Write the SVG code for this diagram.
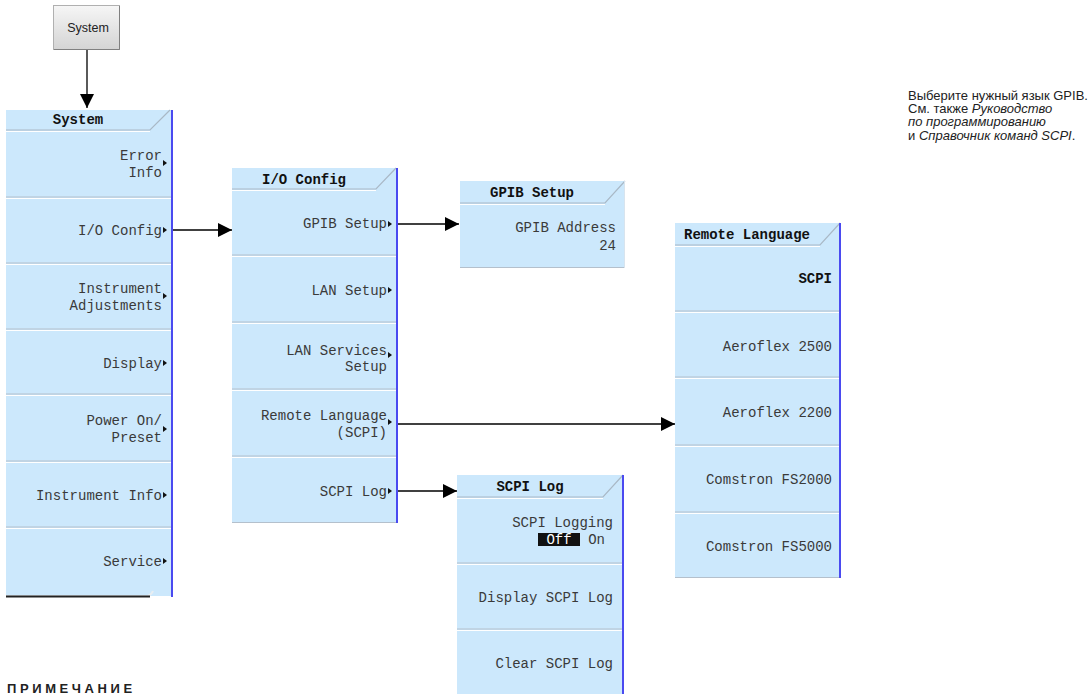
<svg xmlns="http://www.w3.org/2000/svg" width="1090" height="694" viewBox="0 0 1090 694">
<defs>
<linearGradient id="btn" x1="0" y1="0" x2="0" y2="1">
<stop offset="0" stop-color="#f6f6f6"/><stop offset="1" stop-color="#d4d4d4"/>
</linearGradient>
<marker id="ah" viewBox="0 0 14 14" refX="14" refY="7" markerWidth="14" markerHeight="14" markerUnits="userSpaceOnUse" orient="auto">
<path d="M0,0 L14,7 L0,14 Z" fill="#000"/>
</marker>
</defs>
<style>
.panel{fill:#cce8fc}
.blue{stroke:#4a4af0;stroke-width:2}
.sep{stroke:#b4c0cc;stroke-width:1.2}
.sepw{stroke:#ffffff;stroke-width:1}
.hd{fill:none;stroke:#a9b8c6;stroke-width:1.2}
.t{font-family:"Liberation Mono","DejaVu Sans Mono",monospace;font-size:14px;fill:#3a3a3a;text-anchor:end}
.h{font-family:"Liberation Mono","DejaVu Sans Mono",monospace;font-size:14px;font-weight:bold;fill:#111;text-anchor:middle}
.b{font-weight:bold;fill:#111}
.tri{fill:#111}
.conn{stroke:#000;stroke-width:1.3;fill:none;marker-end:url(#ah)}
.note{font-family:"Liberation Sans",Arial,sans-serif;font-size:13px;fill:#222}
</style>
<rect width="1090" height="694" fill="#fff"/>

<g id="btn-system">
<rect x="53.5" y="5.5" width="66" height="44" fill="url(#btn)" stroke="#b0b0b0"/>
<path d="M119.5,6 V49.5 H54" stroke="#808080" fill="none"/>
<text x="88" y="32" font-family="Liberation Sans,Arial,sans-serif" font-size="12.5" fill="#222" text-anchor="middle">System</text>
</g>

<g id="menu-system">
<rect class="panel" x="6" y="110" width="166" height="486"/>
<polyline class="hd" points="6,130 150,130 170,110"/>
<line class="sepw" x1="6" y1="131.5" x2="150" y2="131.5"/>
<text class="h" x="78" y="124">System</text>
<g>
<line class="sep" x1="6" y1="197" x2="172" y2="197"/><line class="sepw" x1="6" y1="198.5" x2="172" y2="198.5"/>
<line class="sep" x1="6" y1="263" x2="172" y2="263"/><line class="sepw" x1="6" y1="264.5" x2="172" y2="264.5"/>
<line class="sep" x1="6" y1="329" x2="172" y2="329"/><line class="sepw" x1="6" y1="330.5" x2="172" y2="330.5"/>
<line class="sep" x1="6" y1="394" x2="172" y2="394"/><line class="sepw" x1="6" y1="395.5" x2="172" y2="395.5"/>
<line class="sep" x1="6" y1="461" x2="172" y2="461"/><line class="sepw" x1="6" y1="462.5" x2="172" y2="462.5"/>
<line class="sep" x1="6" y1="527" x2="172" y2="527"/><line class="sepw" x1="6" y1="528.5" x2="172" y2="528.5"/>
</g>
<text class="t" x="162" y="160">Error</text><text class="t" x="162" y="177">Info</text>
<path class="tri" d="M163,160 L167,163 L163,166 Z"/>
<text class="t" x="162" y="235">I/O Config</text>
<path class="tri" d="M163,227 L167,230 L163,233 Z"/>
<text class="t" x="162" y="293">Instrument</text><text class="t" x="162" y="310">Adjustments</text>
<path class="tri" d="M163,293 L167,296 L163,299 Z"/>
<text class="t" x="162" y="368">Display</text>
<path class="tri" d="M163,360 L167,363 L163,366 Z"/>
<text class="t" x="162" y="425">Power On/</text><text class="t" x="162" y="442">Preset</text>
<path class="tri" d="M163,426 L167,429 L163,432 Z"/>
<text class="t" x="162" y="500">Instrument Info</text>
<path class="tri" d="M163,492 L167,495 L163,498 Z"/>
<text class="t" x="162" y="566">Service</text>
<path class="tri" d="M163,558 L167,561 L163,564 Z"/>
<path d="M6,596 H148 Q152,594 153,591" stroke="#e8eef2" stroke-width="2" fill="none"/>
<line x1="6" y1="596.5" x2="150" y2="596.5" stroke="#222" stroke-width="2"/>
<line class="blue" x1="172" y1="110" x2="172" y2="597"/>
</g>

<g id="menu-io-config">
<rect class="panel" x="232" y="168" width="165" height="355"/>
<polyline class="hd" points="232,189 376,189 396,168"/>
<line class="sepw" x1="232" y1="190.5" x2="376" y2="190.5"/>
<text class="h" x="304" y="184">I/O Config</text>
<line class="sep" x1="232" y1="255" x2="397" y2="255"/><line class="sepw" x1="232" y1="256.5" x2="397" y2="256.5"/>
<line class="sep" x1="232" y1="322" x2="397" y2="322"/><line class="sepw" x1="232" y1="323.5" x2="397" y2="323.5"/>
<line class="sep" x1="232" y1="389" x2="397" y2="389"/><line class="sepw" x1="232" y1="390.5" x2="397" y2="390.5"/>
<line class="sep" x1="232" y1="456" x2="397" y2="456"/><line class="sepw" x1="232" y1="457.5" x2="397" y2="457.5"/>
<line class="sep" x1="232" y1="522.5" x2="397" y2="522.5"/>
<text class="t" x="387" y="228">GPIB Setup</text>
<path class="tri" d="M388,221 L392,224 L388,227 Z"/>
<text class="t" x="387" y="295">LAN Setup</text>
<path class="tri" d="M388,287 L392,290 L388,293 Z"/>
<text class="t" x="387" y="355">LAN Services</text><text class="t" x="387" y="371">Setup</text>
<path class="tri" d="M388,352 L392,355 L388,358 Z"/>
<text class="t" x="387" y="420">Remote Language</text><text class="t" x="387" y="437">(SCPI)</text>
<path class="tri" d="M388,419 L392,422 L388,425 Z"/>
<text class="t" x="387" y="496">SCPI Log</text>
<path class="tri" d="M388,488 L392,491 L388,494 Z"/>
<line class="blue" x1="397" y1="168" x2="397" y2="523"/>
</g>

<g id="menu-gpib-setup">
<rect class="panel" x="460" y="181" width="165" height="87"/>
<polyline class="hd" points="460,203 605,203 625,181"/>
<line class="sepw" x1="460" y1="204.5" x2="605" y2="204.5"/>
<line class="sep" x1="460" y1="267.5" x2="625" y2="267.5"/>
<line x1="624.5" y1="181" x2="624.5" y2="268" stroke="#d8e4ee"/>
<text class="h" x="532" y="197">GPIB Setup</text>
<text class="t" x="616" y="232">GPIB Address</text>
<text class="t" x="616" y="250">24</text>
</g>

<g id="menu-remote-language">
<rect class="panel" x="675" y="223" width="165" height="355"/>
<polyline class="hd" points="675,245 820,245 840,223"/>
<line class="sepw" x1="675" y1="246.5" x2="820" y2="246.5"/>
<text class="h" x="747" y="239">Remote Language</text>
<line class="sep" x1="675" y1="311" x2="840" y2="311"/><line class="sepw" x1="675" y1="312.5" x2="840" y2="312.5"/>
<line class="sep" x1="675" y1="377" x2="840" y2="377"/><line class="sepw" x1="675" y1="378.5" x2="840" y2="378.5"/>
<line class="sep" x1="675" y1="445" x2="840" y2="445"/><line class="sepw" x1="675" y1="446.5" x2="840" y2="446.5"/>
<line class="sep" x1="675" y1="512" x2="840" y2="512"/><line class="sepw" x1="675" y1="513.5" x2="840" y2="513.5"/>
<line class="sep" x1="675" y1="577.5" x2="840" y2="577.5"/>
<text class="t b" x="832" y="283">SCPI</text>
<text class="t" x="832" y="351">Aeroflex 2500</text>
<text class="t" x="832" y="417">Aeroflex 2200</text>
<text class="t" x="832" y="484">Comstron FS2000</text>
<text class="t" x="832" y="551">Comstron FS5000</text>
<line class="blue" x1="840" y1="223" x2="840" y2="578"/>
</g>

<g id="menu-scpi-log">
<rect class="panel" x="457" y="475" width="166" height="219"/>
<polyline class="hd" points="457,497 603,497 623,475"/>
<line class="sepw" x1="457" y1="498.5" x2="603" y2="498.5"/>
<text class="h" x="530" y="491">SCPI Log</text>
<line class="sep" x1="457" y1="563" x2="623" y2="563"/><line class="sepw" x1="457" y1="564.5" x2="623" y2="564.5"/>
<line class="sep" x1="457" y1="629" x2="623" y2="629"/><line class="sepw" x1="457" y1="630.5" x2="623" y2="630.5"/>
<text class="t" x="613" y="527">SCPI Logging</text>
<rect x="538" y="533" width="42" height="13" fill="#111"/>
<text class="t" x="559" y="544" style="text-anchor:middle;fill:#fff">Off</text>
<text class="t" x="605" y="544">On</text>
<text class="t" x="613" y="602">Display SCPI Log</text>
<text class="t" x="613" y="668">Clear SCPI Log</text>
<line class="blue" x1="623" y1="475" x2="623" y2="694"/>
</g>

<g id="connectors">
<line class="conn" x1="87" y1="50" x2="87" y2="108"/>
<line class="conn" x1="173" y1="230" x2="232" y2="230"/>
<line class="conn" x1="398" y1="224" x2="459" y2="224"/>
<line class="conn" x1="398" y1="424" x2="675" y2="424"/>
<line class="conn" x1="398" y1="491" x2="457" y2="491"/>
</g>

<g id="note-text">
<text class="note" x="908" y="100">Выберите нужный язык GPIB.</text>
<text class="note" x="908" y="113">См. также <tspan font-style="italic">Руководство</tspan></text>
<text class="note" x="908" y="126" font-style="italic">по программированию</text>
<text class="note" x="908" y="140">и <tspan font-style="italic">Справочник команд SCPI</tspan>.</text>
</g>

<g id="note-heading">
<text x="7" y="693" font-family="Liberation Sans,Arial,sans-serif" font-size="13" font-weight="bold" letter-spacing="3.6" fill="#222">ПРИМЕЧАНИЕ</text>
</g>
</svg>
